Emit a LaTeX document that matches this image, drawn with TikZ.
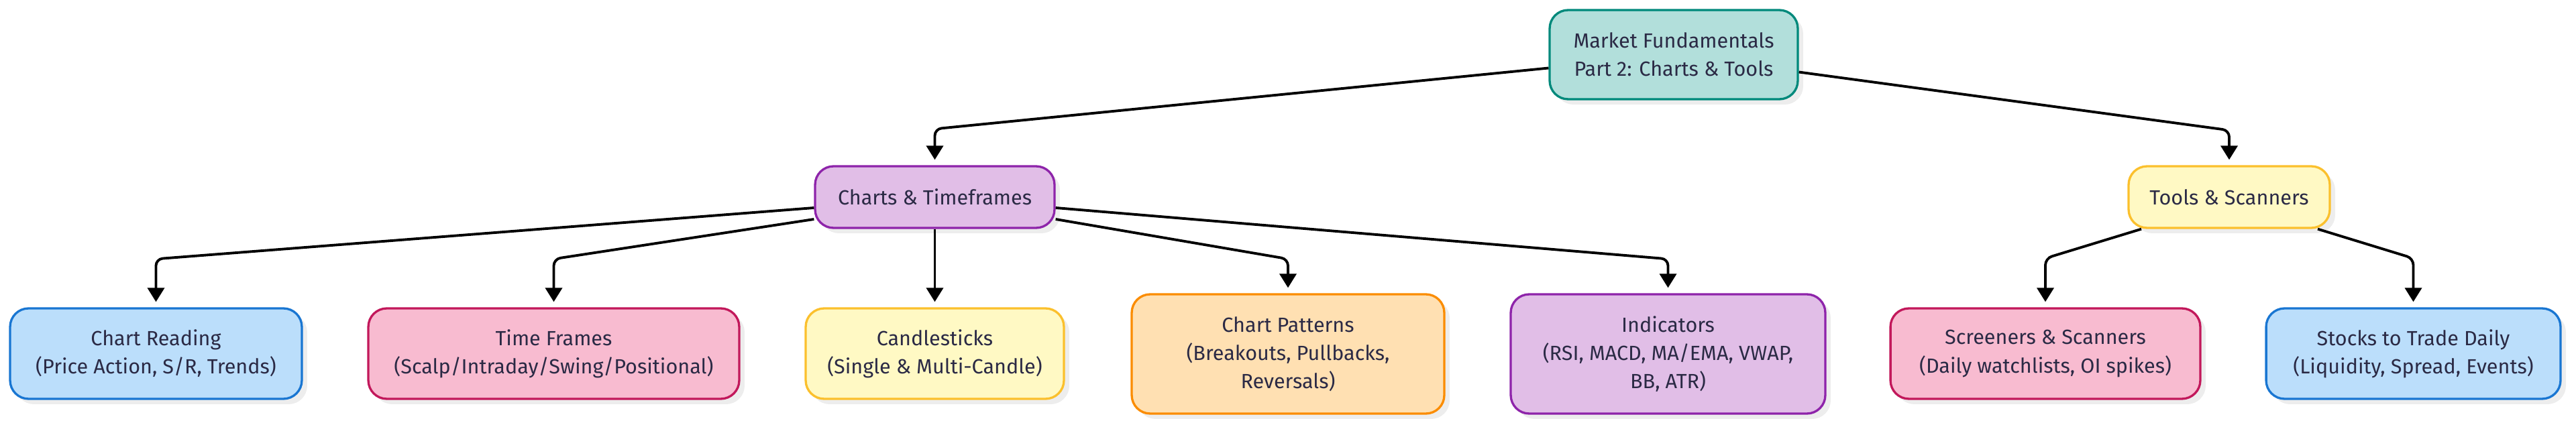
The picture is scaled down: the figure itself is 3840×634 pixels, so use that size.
\documentclass[tikz,border=0pt]{standalone}
\usepackage{fontspec}
\setmainfont{Fira Sans}
\usetikzlibrary{arrows.meta,calc,shadows}

\definecolor{ink}{HTML}{2B2A45}
\definecolor{tealfill}{HTML}{B2DFDB}
\definecolor{tealline}{HTML}{00897B}
\definecolor{purplefill}{HTML}{E1BEE7}
\definecolor{purpleline}{HTML}{8E24AA}
\definecolor{yellowfill}{HTML}{FFF9C4}
\definecolor{yellowline}{HTML}{FBC02D}
\definecolor{bluefill}{HTML}{BBDEFB}
\definecolor{blueline}{HTML}{1976D2}
\definecolor{pinkfill}{HTML}{F8BBD0}
\definecolor{pinkline}{HTML}{C2185B}
\definecolor{orangefill}{HTML}{FFE0B2}
\definecolor{orangeline}{HTML}{FB8C00}

\begin{document}
\begin{tikzpicture}[x=0.02cm, y=-0.02cm,
    box/.style={draw, rounded corners=0.55cm, line width=1.9pt, align=center,
        text=ink, inner sep=0pt, font=\fontsize{17.4pt}{24pt}\selectfont,
        drop shadow={shadow xshift=0.16cm, shadow yshift=-0.16cm, fill=black!7, opacity=1}},
    teal/.style={box, fill=tealfill, draw=tealline},
    purple/.style={box, fill=purplefill, draw=purpleline},
    yellow/.style={box, fill=yellowfill, draw=yellowline},
    blue/.style={box, fill=bluefill, draw=blueline},
    pink/.style={box, fill=pinkfill, draw=pinkline},
    orange/.style={box, fill=orangefill, draw=orangeline},
    link/.style={line width=2.2pt, rounded corners=0.2cm,
        -{Triangle[length=0.42cm, width=0.5cm]}, shorten >=0.16cm}]
    \useasboundingbox (0,0) rectangle (3840,634);

    % Root
    \node[teal, minimum width=7.4cm, minimum height=2.66cm] (root) at (2495,81.5)
        {Market Fundamentals\\Part 2: Charts \& Tools};

    % Middle row
    \node[purple, minimum width=7.14cm, minimum height=1.84cm] (charts) at (1393.5,294) {Charts \& Timeframes};
    \node[yellow, minimum width=6cm, minimum height=1.84cm] (tools) at (3323,294) {Tools \& Scanners};

    % Bottom row
    \node[blue, minimum width=8.7cm, minimum height=2.7cm] (reading) at (232.5,527.5)
        {Chart Reading\\(Price Action, S/R, Trends)};
    \node[pink, minimum width=11.06cm, minimum height=2.7cm] (frames) at (825.5,527.5)
        {Time Frames\\(Scalp/Intraday/Swing/Positional)};
    \node[yellow, minimum width=7.7cm, minimum height=2.7cm] (candles) at (1393.5,527.5)
        {Candlesticks\\(Single \& Multi-Candle)};
    \node[orange, minimum width=9.32cm, minimum height=3.56cm] (patterns) at (1920,528)
        {Chart Patterns\\(Breakouts, Pullbacks,\\Reversals)};
    \node[purple, minimum width=9.38cm, minimum height=3.56cm] (indicators) at (2486.5,528)
        {Indicators\\(RSI, MACD, MA/EMA, VWAP,\\BB, ATR)};
    \node[pink, minimum width=9.24cm, minimum height=2.7cm] (screeners) at (3049,527.5)
        {Screeners \& Scanners\\(Daily watchlists, OI spikes)};
    \node[blue, minimum width=8.78cm, minimum height=2.7cm] (stocks) at (3597.5,527.5)
        {Stocks to Trade Daily\\(Liquidity, Spread, Events)};

    % Links from the root
    \draw[link] ($(root.west)+(0,20)$) -- ($(charts.north)+(0,-54)$) -- (charts.north);
    \draw[link] ($(root.east)+(0,26)$) -- ($(tools.north)+(0,-52)$) -- (tools.north);

    % Links from charts
    \draw[link] ($(charts.west)+(0,16)$) -- ($(reading.north)+(0,-72)$) -- (reading.north);
    \draw[link] ($(charts.west)+(0,33)$) -- ($(frames.north)+(0,-72)$) -- (frames.north);
    \draw[link] (charts.south) -- (candles.north);
    \draw[link] ($(charts.east)+(0,33)$) -- ($(patterns.north)+(0,-51)$) -- (patterns.north);
    \draw[link] ($(charts.east)+(0,16)$) -- ($(indicators.north)+(0,-51)$) -- (indicators.north);

    % Links from tools
    \draw[link] ($(tools.south)+(-131,0)$) -- ($(screeners.north)+(0,-73)$) -- (screeners.north);
    \draw[link] ($(tools.south)+(132,0)$) -- ($(stocks.north)+(0,-73)$) -- (stocks.north);
\end{tikzpicture}
\end{document}
